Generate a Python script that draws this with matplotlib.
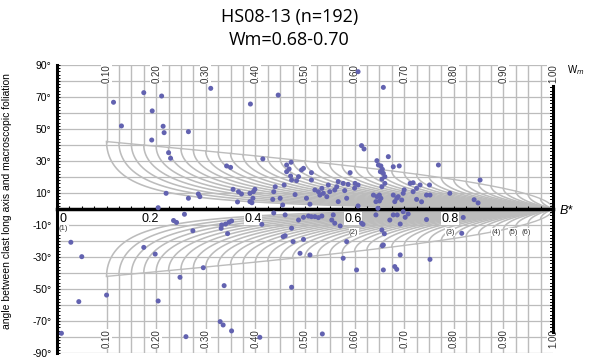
import numpy as np
import matplotlib.pyplot as plt

# Rigid grain net for sample HS08-13
# clast shape factor B* and angle between long axis and foliation (deg)
b_star = [
    # upper half, sparse
    0.114, 0.130, 0.175, 0.211, 0.192, 0.214, 0.216, 0.191, 0.265, 0.310,
    0.390, 0.446, 0.225, 0.229, 0.415, 0.607, 0.658, 0.614, 0.619, 0.668,
    0.645,
    # upper half, 15-30 deg
    0.342, 0.350, 0.463, 0.472, 0.471, 0.458, 0.483, 0.463, 0.468, 0.487,
    0.473, 0.493, 0.497, 0.513, 0.513, 0.591, 0.547, 0.567, 0.577, 0.587,
    0.601, 0.607, 0.648, 0.653, 0.656, 0.652, 0.658, 0.661, 0.655, 0.661,
    0.678, 0.690, 0.769, 0.712, 0.718, 0.853, 0.751, 0.732,
    # upper half, 0-15 deg
    0.220, 0.265, 0.285, 0.288, 0.355, 0.366, 0.372, 0.389, 0.396, 0.399,
    0.364, 0.393, 0.440, 0.437, 0.435, 0.450, 0.204, 0.395, 0.389, 0.503,
    0.520, 0.527, 0.530, 0.534, 0.537, 0.544, 0.550, 0.560, 0.564, 0.567,
    0.584, 0.638, 0.645, 0.650, 0.653, 0.643, 0.650, 0.655, 0.678, 0.685,
    0.688, 0.695, 0.681, 0.698, 0.718, 0.725, 0.752, 0.792, 0.745, 0.841,
    0.849, 0.607, 0.580, 0.600, 0.700, 0.725, 0.735, 0.455, 0.480, 0.510,
    # lower half
    0.257, 0.235, 0.241, 0.274, 0.332, 0.340, 0.347, 0.352, 0.331, 0.344,
    0.028, 0.050, 0.044, 0.009, 0.100, 0.175, 0.198, 0.204, 0.248, 0.295,
    0.337, 0.329, 0.335, 0.352, 0.260, 0.409, 0.473, 0.460, 0.456, 0.473,
    0.476, 0.413, 0.497, 0.507, 0.513, 0.520, 0.527, 0.534, 0.554, 0.557,
    0.560, 0.497, 0.490, 0.510, 0.577, 0.604, 0.584, 0.614, 0.643, 0.655,
    0.660, 0.658, 0.658, 0.681, 0.685, 0.692, 0.671, 0.686, 0.692, 0.702,
    0.708, 0.752, 0.745, 0.816, 0.819, 0.535, 0.487, 0.571, 0.617, 0.656,
    0.647, 0.698, 0.460, 0.437, 0.678,
]
theta = [
    66.7, 51.9, 72.7, 70.6, 61.3, 51.7, 47.7, 43.1, 48.3, 75.4,
    65.6, 71.2, 35.2, 31.7, 31.3, 85.8, 76.0, 39.6, 37.5, 32.7,
    30.2,
    26.9, 26.0, 27.5, 29.2, 20.6, 15.0, 17.7, 23.3, 25.0, 20.2,
    18.1, 24.4, 25.4, 18.1, 22.7, 22.7, 15.0, 17.1, 16.0, 15.4,
    16.0, 15.0, 27.5, 26.9, 24.8, 23.3, 22.3, 20.2, 18.6, 16.0,
    26.4, 26.9, 27.5, 16.0, 16.4, 18.1, 15.0, 15.0,
    9.8, 6.7, 9.4, 7.7, 12.3, 10.8, 9.4, 9.8, 10.8, 12.3,
    4.4, 3.9, 13.9, 10.8, 6.0, 6.7, 0.8, 6.7, 4.6, 6.7,
    11.9, 10.8, 8.7, 12.9, 9.8, 7.7, 10.8, 11.9, 13.9, 4.6,
    6.7, 8.7, 7.7, 8.7, 6.7, 4.6, 5.0, 13.9, 8.7, 6.7,
    7.7, 5.6, 4.6, 9.8, 10.8, 12.9, 8.7, 9.8, 8.7, 5.8,
    3.8, 1.9, 11.5, 13.0, 12.0, 6.0, 4.5, 2.5, 9.0, 3.0,
    -3.3, -7.2, -8.4, -13.6, -10.0, -9.4, -8.3, -7.5, -12.1, -15.4,
    -20.8, -29.8, -57.9, -77.7, -53.8, -24.0, -28.2, -57.5, -42.7, -36.7,
    -47.9, -70.4, -72.5, -76.2, -79.8, -80.2, -48.9, -3.7, -17.3, -12.0,
    -20.4, -9.6, -5.2, -4.4, -4.8, -4.8, -5.4, -4.4, -6.9, -3.7,
    -8.9, -19.0, -27.7, -28.7, -30.8, -38.1, -20.4, -8.9, -3.7, -13.1,
    -15.5, -22.5, -38.1, -36.0, -37.7, -28.7, -6.9, -3.7, -9.4, -5.2,
    -3.1, -31.5, -6.6, -15.2, -5.3, -78.1, -6.9, -10.6, -9.6, -23.0,
    0.4, -1.7, -16.7, -2.5, -3.7,
]

title_lines = ['HS08-13 (n=192)', 'Wm=0.68-0.70']
wm_labels = ['0.10', '0.20', '0.30', '0.40', '0.50', '0.60', '0.70', '0.80', '0.90', '1.00']
wm_label_pos = [0.10, 0.20, 0.30, 0.40, 0.50, 0.60, 0.70, 0.80, 0.90, 1.00]
y_ticks = [90, 70, 50, 30, 10, -10, -30, -50, -70, -90]
x_labels = ['0', '0.2', '0.4', '0.6', '0.8']
x_label_pos = [0.005, 0.187, 0.396, 0.597, 0.792]
ref_labels = ['(1)', '(2)', '(3)', '(4)', '(5)', '(6)']
ref_pos = [0.004, 0.598, 0.793, 0.885, 0.919, 0.946]

net_grey = '#bcbcbc'
dot_colour = '#6262b0'
small_font = 'Liberation Sans'

fig = plt.figure(figsize=(5.91, 3.62), dpi=100)
ax = fig.add_axes([0.0964, 0.0249, 0.8393, 0.7956])
ax.set_xlim(0, 1)
ax.set_ylim(-90, 90)

# horizontal grid every 10 deg
for yy in range(-90, 91, 10):
    ax.axhline(yy, color=net_grey, lw=0.9, zorder=1)

# Wm curves: vertical above the envelope, stable orientation curve below it
for w in np.arange(0.10, 0.99, 0.025):
    env = 0.5 * np.degrees(np.arccos(w))
    bb = w + (1 - w) * np.linspace(0, 1, 400) ** 2
    th = env - 0.5 * np.degrees(np.arccos(np.clip(w / bb, -1, 1)))
    for sgn in (1, -1):
        ax.plot([w, w], [sgn * 90, sgn * env], color=net_grey, lw=1.0, zorder=1)
        ax.plot(bb, sgn * th, color=net_grey, lw=1.15, zorder=1)

# envelope
bb = np.linspace(0.1, 1, 200)
env_line = 0.5 * np.degrees(np.arccos(bb))
ax.plot(bb, env_line, color=net_grey, lw=1.0, zorder=1)
ax.plot(bb, -env_line, color=net_grey, lw=1.0, zorder=1)

# Wm labels top and bottom
for pos, lab in zip(wm_label_pos, wm_labels):
    for yy in (84.4, -81.2):
        ax.text(pos, yy, lab, rotation=90, ha='center', va='center', fontsize=7,
                family=small_font, color='#333333', zorder=2,
                bbox=dict(facecolor='white', edgecolor='none', pad=0.5))

# data
ax.scatter(b_star, theta, s=13, color=dot_colour, edgecolors='none', zorder=4)

# axes
for side in ['top', 'right']:
    ax.spines[side].set_visible(False)
ax.spines['left'].set_linewidth(2.2)
ax.spines['bottom'].set_position(('data', 0))
ax.spines['bottom'].set_linewidth(2.5)
ax.set_xticks(np.arange(0, 1.001, 0.025))
ax.set_xticklabels([])
ax.tick_params(axis='x', direction='in', length=2.5, width=0.8)
ax.set_yticks(y_ticks, labels=[str(v) + '°' for v in y_ticks])
ax.set_yticks(np.arange(-90, 91, 2), minor=True)
ax.tick_params(axis='y', which='both', direction='in', length=2.5, width=0.7,
               labelsize=7.5, pad=4)
for lab in ax.get_yticklabels():
    lab.set_family(small_font)

# right ruler at B*=1
ax.plot([1, 1], [-77, 77], color='black', lw=2.2, zorder=3, clip_on=False)
for yy in range(-76, 77, 2):
    ax.plot([0.994, 1], [yy, yy], color='black', lw=0.7, zorder=3, clip_on=False)

# x labels on the B* axis
for pos, lab in zip(x_label_pos, x_labels):
    ax.text(pos, -6, lab, ha='left' if lab == '0' else 'center', va='center',
            fontsize=9, family=small_font, zorder=2,
            bbox=dict(facecolor='white', edgecolor='none', pad=0.3))
for pos, lab in zip(ref_pos, ref_labels):
    ax.text(pos, -12.5 if lab == '(1)' else -14.5, lab, ha='left' if lab == '(1)' else 'center',
            va='center', fontsize=5.5, family=small_font, color='#333333', zorder=2,
            bbox=dict(facecolor='white', edgecolor='none', pad=0.3))

ax.text(1.014, -1, 'B*', style='italic', fontsize=9, family=small_font,
        ha='left', va='center', clip_on=False)
ax.text(1.028, 87, 'W$_m$', fontsize=7, family=small_font, ha='left', va='center',
        clip_on=False)

ax.set_ylabel('angle between clast long axis and macroscopic foliation',
              fontsize=7.5, family=small_font)
ax.yaxis.set_label_coords(-0.091, 0.528)

fig.text(0.49, 0.953, title_lines[0], ha='center', va='center', fontsize=13, family='Open Sans')
fig.text(0.49, 0.89, title_lines[1], ha='center', va='center', fontsize=13, family='Open Sans')

fig.savefig('out.png', dpi=100)
